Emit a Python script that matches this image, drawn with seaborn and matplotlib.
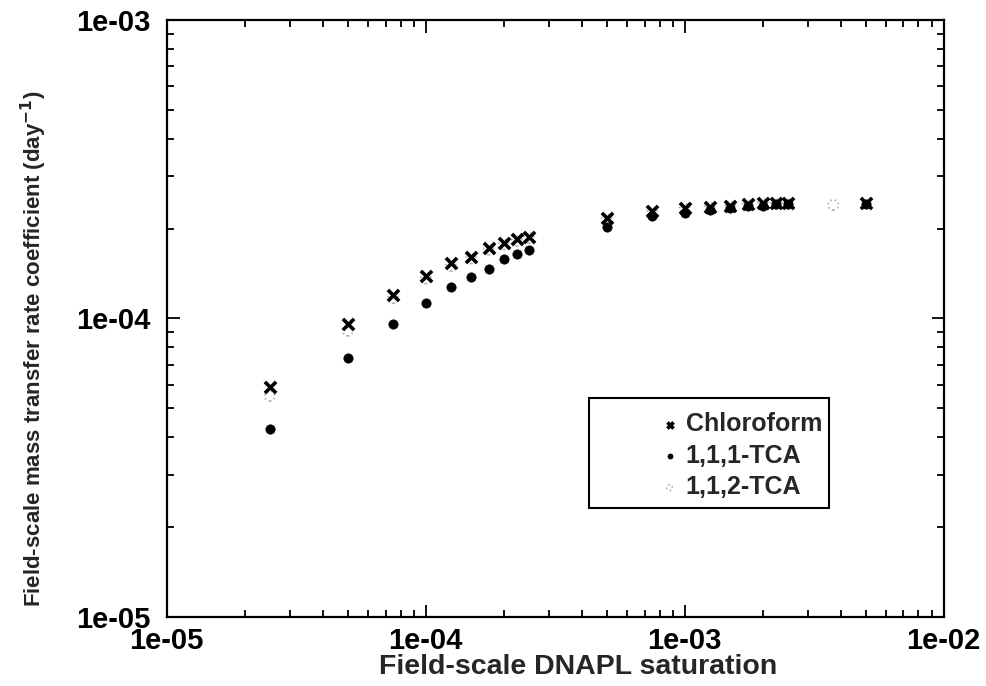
import numpy as np
import pandas as pd
import matplotlib
matplotlib.use("Agg")
import matplotlib.pyplot as plt
import seaborn as sns
from matplotlib.patches import Rectangle
from matplotlib.ticker import LogLocator, FixedLocator, FixedFormatter, NullFormatter

# ---- data ----
sat = [2.5e-5, 5e-5, 7.5e-5, 1e-4, 1.25e-4, 1.5e-4, 1.75e-4, 2e-4, 2.25e-4, 2.5e-4,
       5e-4, 7.5e-4, 1e-3, 1.25e-3, 1.5e-3, 1.75e-3, 2e-3, 2.25e-3, 2.5e-3, 5e-3]
chloroform = [5.9e-5, 9.6e-5, 1.2e-4, 1.39e-4, 1.53e-4, 1.61e-4, 1.72e-4, 1.79e-4, 1.84e-4, 1.88e-4,
              2.17e-4, 2.29e-4, 2.34e-4, 2.36e-4, 2.38e-4, 2.41e-4, 2.43e-4, 2.43e-4, 2.43e-4, 2.43e-4]
tca111 = [4.25e-5, 7.35e-5, 9.6e-5, 1.13e-4, 1.27e-4, 1.38e-4, 1.47e-4, 1.58e-4, 1.64e-4, 1.69e-4,
          2.02e-4, 2.2e-4, 2.25e-4, 2.3e-4, 2.34e-4, 2.38e-4, 2.39e-4, 2.41e-4, 2.41e-4, 2.41e-4]
sat_112 = [2.5e-5, 5e-5, 7.5e-5, 1e-4, 1.25e-4, 1.5e-4, 1.75e-4, 2e-4, 2.25e-4, 2.5e-4,
           5e-4, 7.5e-4, 1e-3, 1.25e-3, 1.5e-3, 1.75e-3, 2e-3, 2.25e-3, 2.5e-3, 3.75e-3]
tca112 = [5.5e-5, 9.1e-5, 1.17e-4, 1.36e-4, 1.5e-4, 1.59e-4, 1.7e-4, 1.77e-4, 1.82e-4, 1.86e-4,
          2.15e-4, 2.27e-4, 2.33e-4, 2.35e-4, 2.37e-4, 2.4e-4, 2.42e-4, 2.42e-4, 2.42e-4, 2.4e-4]
xtick_vals = [1e-5, 1e-4, 1e-3, 1e-2]
xtick_labels = ["1e-05", "1e-04", "1e-03", "1e-02"]
ytick_vals = [1e-5, 1e-4, 1e-3]
ytick_labels = ["1e-05", "1e-04", "1e-03"]

df_c = pd.DataFrame({"sat": sat, "k": chloroform})
df_1 = pd.DataFrame({"sat": sat, "k": tca111})
df_2 = pd.DataFrame({"sat": sat_112, "k": tca112})

sns.set_style("ticks")
plt.rcParams["font.family"] = ["Liberation Sans", "DejaVu Sans"]
plt.rcParams["font.weight"] = "bold"
plt.rcParams["axes.labelweight"] = "bold"

fig = plt.figure(figsize=(9.87, 6.86), dpi=100)
ax = fig.add_axes([0.169, 0.1006, 0.787, 0.8703])

sns.scatterplot(data=df_2, x="sat", y="k", ax=ax, marker="o", s=55,
                facecolor="none", edgecolor="#b0b0b0", linewidth=1.2, linestyle=":",
                label="1,1,2-TCA", zorder=2)
sns.scatterplot(data=df_c, x="sat", y="k", ax=ax, marker="x", s=65,
                color="black", linewidth=2.6, label="Chloroform", zorder=3)
sns.scatterplot(data=df_1, x="sat", y="k", ax=ax, marker="o", s=45,
                color="black", edgecolor="black", linewidth=0.5, label="1,1,1-TCA", zorder=3)

ax.set_xscale("log")
ax.set_yscale("log")
ax.set_xlim(1e-5, 1e-2)
ax.set_ylim(1e-5, 1e-3)

ax.xaxis.set_major_locator(FixedLocator(xtick_vals))
ax.xaxis.set_major_formatter(FixedFormatter(xtick_labels))
ax.yaxis.set_major_locator(FixedLocator(ytick_vals))
ax.yaxis.set_major_formatter(FixedFormatter(ytick_labels))
ax.xaxis.set_minor_locator(LogLocator(base=10, subs=np.arange(2, 10), numticks=20))
ax.yaxis.set_minor_locator(LogLocator(base=10, subs=np.arange(2, 10), numticks=20))
ax.xaxis.set_minor_formatter(NullFormatter())
ax.yaxis.set_minor_formatter(NullFormatter())

ax.tick_params(which="both", direction="in", top=True, right=True, colors="black",
               labelsize=21, width=1.3)
ax.tick_params(which="major", length=9)
ax.tick_params(axis="x", which="major", pad=7)
ax.tick_params(axis="y", which="major", pad=12)
ax.tick_params(which="minor", length=5)
for lab in ax.get_xticklabels() + ax.get_yticklabels():
    lab.set_fontweight("bold")

for sp in ax.spines.values():
    sp.set_linewidth(1.6)
    sp.set_color("black")

ax.set_xlabel("Field-scale DNAPL saturation", fontsize=20.5, fontweight="bold")
ax.xaxis.set_label_coords(0.529, -0.062)
ax.set_ylabel("Field-scale mass transfer rate coefficient (day$^{\\mathbf{-1}}$)",
              fontsize=16, fontweight="bold")
ax.yaxis.set_label_coords(-0.152, 0.45)

# legend frame (gnuplot style box)
ax.add_patch(Rectangle((0.543, 0.183), 0.31, 0.184, transform=ax.transAxes,
                       facecolor="white", edgecolor="black", linewidth=1.5, zorder=4))

handles, labels = ax.get_legend_handles_labels()
order = [labels.index("Chloroform"), labels.index("1,1,1-TCA"), labels.index("1,1,2-TCA")]
leg = ax.legend([handles[i] for i in order], [labels[i] for i in order],
                loc="upper left", bbox_to_anchor=(0.636, 0.343), borderaxespad=0,
                frameon=False, prop={"size": 18, "weight": "bold"}, handletextpad=0.3,
                handlelength=0.7, labelspacing=0.3, borderpad=0, markerscale=0.55)
leg.set_zorder(5)

fig.savefig("out.png", dpi=100)
